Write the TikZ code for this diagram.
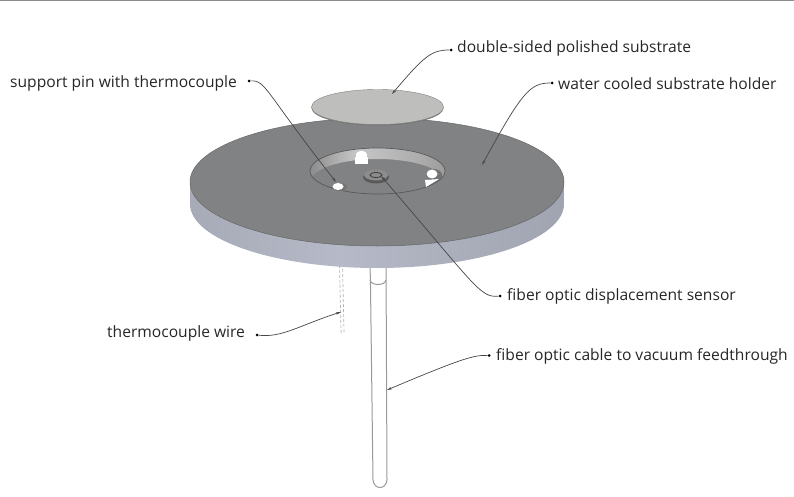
\documentclass[tikz,border=0pt]{standalone}
\usepackage{fontspec}
\setmainfont{Open Sans}
\usetikzlibrary{arrows.meta}
\definecolor{disctop}{RGB}{128,130,132}
\definecolor{leadline}{RGB}{70,70,70}
\definecolor{substrate}{RGB}{190,190,188}
\definecolor{edgelight}{RGB}{182,186,200}
\pgfdeclarehorizontalshading{discedge}{100bp}{
  color(0bp)=(black!60); color(3bp)=(black!50); color(10bp)=(edgelight!85!black); color(45bp)=(edgelight);
  color(75bp)=(edgelight!88!black); color(90bp)=(black!45); color(100bp)=(black!65)}
\pgfdeclarehorizontalshading{recesswall}{100bp}{
  color(0bp)=(black!72); color(14bp)=(black!60); color(42bp)=(black!22); color(65bp)=(black!32);
  color(88bp)=(black!48); color(100bp)=(black!72)}
\begin{document}
\begin{tikzpicture}[x=1pt,y=-1pt,
  lbl/.style={anchor=west,inner sep=0pt,text=black!85,font=\fontsize{15.6}{18}\selectfont},
  dot/.style={circle,fill=black,inner sep=0pt,minimum size=3pt},
  arr/.style={-{Stealth[length=5pt,width=2.6pt]},leadline,line width=0.7pt},
  tube/.style={draw=black!40,line width=1pt},
  pin/.style={fill=white,draw=none}
]
\useasboundingbox (0,0) rectangle (794,497);
\draw[black!45,line width=0.7pt] (0,0.4) -- (794,0.4);

% rod and wire under the disc
\draw[tube] (370,262) -- (370.5,286) -- (373,480) .. controls (374,490) and (386,490) .. (387,480)
  -- (386,262);
\draw[tube] (370,280) .. controls (371,286) and (385,286) .. (386,280);
\draw[black!30,line width=0.7pt,densely dashed] (339.5,265) -- (341,332) -- (344,332) -- (342.5,265);

% disc
\shade[shading=discedge] (190,182) -- (190,204)
  .. controls (190,239.3) and (273.7,268) .. (377,268)
  .. controls (480.3,268) and (564,239.3) .. (564,204) -- (564,182) -- cycle;
\fill[disctop] (377,182) ellipse [x radius=187,y radius=64];
\draw[black!60,line width=0.5pt] (377,182) ellipse [x radius=187,y radius=64];

% recess
\begin{scope}
  \clip (377.5,171) ellipse [x radius=67.5,y radius=23];
  \begin{scope}[even odd rule]
    \clip (310,148) rectangle (445,194) (377.5,182) ellipse [x radius=67.5,y radius=23];
    \shade[shading=recesswall] (310,148) rectangle (445,194);
  \end{scope}
\end{scope}
\draw[black!65,line width=0.7pt] (377.5,171) ellipse [x radius=67.5,y radius=23];

% support pins
\fill[pin] (355,157) rectangle (368,164);
\fill[black!35] (355,155) rectangle (368,157.5);
\fill[pin] (361.5,155.5) ellipse [x radius=6,y radius=4.5];
\fill[black!55] (434,175) ellipse [x radius=8,y radius=6];
\fill[pin] (432,174) ellipse [x radius=5.5,y radius=4.5];
\fill[pin] (425,180) -- (439,179) -- (426,187) -- cycle;
\fill[black!55] (340,187) ellipse [x radius=7,y radius=4];
\fill[pin] (338,186.5) ellipse [x radius=5.5,y radius=3.5];

% sensor
\fill[black!65] (376,177) ellipse [x radius=13,y radius=6.5];
\fill[black!45] (376,175) ellipse [x radius=12,y radius=5.5];
\draw[black!75,line width=0.8pt] (376,175) ellipse [x radius=6,y radius=2.5];

% substrate
\fill[black!55] (377.5,108) ellipse [x radius=66,y radius=17.5];
\fill[substrate] (377.5,107) ellipse [x radius=66,y radius=17.5];
\draw[black!50,line width=0.4pt] (377.5,107) ellipse [x radius=66,y radius=17.5];

% labels
\node[lbl] (Lsub) at (457,48) {double-sided polished substrate};
\node[lbl] (Lpin) at (10,83.5) {support pin with thermocouple};
\node[lbl] (Lhold) at (558,83.5) {water cooled substrate holder};
\node[lbl] (Lsens) at (507,296.5) {fiber optic displacement sensor};
\node[lbl] (Lwire) at (107,333.5) {thermocouple wire};
\node[lbl] (Lcab) at (496,356.5) {fiber optic cable to vacuum feedthrough};

\node[dot] (Dsub) at (451,50) {};
\node[dot] (Dpin) at (249,81) {};
\node[dot] (Dhold) at (552,83) {};
\node[dot] (Dsens) at (500,296) {};
\node[dot] (Dwire) at (257,335) {};
\node[dot] (Dcab) at (489,355.5) {};

\coordinate (Tsub) at (392,94);
\coordinate (Tpin) at (336,182);
\coordinate (Thold) at (482,165);
\coordinate (Tsens) at (381,176);
\coordinate (Twire) at (341,312);
\coordinate (Tcab) at (387,390);

\draw[arr] (Dsub) .. controls (432,50) and (425,55) .. (Tsub);
\draw[arr] (Dpin) .. controls (266,80) and (265,92) .. (Tpin);
\draw[arr] (Dhold) .. controls (530,83) and (522,92) .. (Thold);
\draw[arr] (Dsens) .. controls (480,298) and (475,285) .. (Tsens);
\draw[arr] (Dwire) .. controls (282,338) and (300,325) .. (Twire);
\draw[arr] (Dcab) .. controls (475,355) and (465,357) .. (Tcab);
\end{tikzpicture}
\end{document}
